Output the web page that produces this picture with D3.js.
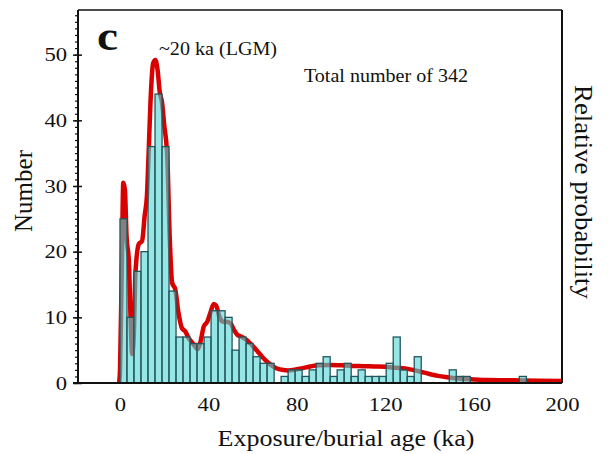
<!DOCTYPE html>
<html>
<head>
<meta charset="utf-8">
<script src="https://cdn.jsdelivr.net/npm/d3@7"></script>
<style>
  html, body { margin: 0; padding: 0; background: #fff; }
  svg { display: block; }
  text { font-family: "Liberation Serif", "Times New Roman", serif; fill: #111; }
</style>
</head>
<body>
<svg id="chart" width="608" height="454"></svg>
<script>
// ---------------- data ----------------
const binWidth = 3.17; // ka
const binCounts = [25, 10, 17, 20, 36, 44, 36, 14, 7, 7, 6, 6, 7, 11, 11, 10, 5, 7, 6, 4,
  3, 3, 0, 1, 2, 2, 1, 2, 3, 4, 1, 2, 3, 1, 2, 1, 1, 1, 3, 7,
  2, 1, 4, 0, 0, 0, 0, 2, 1, 1, 0, 0, 0, 0, 0, 0, 0, 1];

const curveAge = [-0.4, 0, 0.8, 1.5, 2.2, 3, 4, 4.8, 5.5, 6.2, 7, 8.5, 10, 11.2, 12.2, 13, 14, 15, 16, 17,
  18, 19, 20, 21.4, 22.5, 23.6, 25, 26.4, 28, 29.5, 31, 33.3, 35, 36.5, 37.9, 39.5, 41, 42.4, 43.5, 45,
  46.5, 48, 50, 51.5, 53, 55, 57.6, 60, 62, 64.5, 66.7, 69, 71, 74, 76, 79, 82, 86, 90, 95,
  100, 105, 110, 115, 120, 125, 129, 133, 136, 140, 144, 148, 153, 160, 167, 175, 182, 190, 200];
const curveProb = [0, 0.04, 0.35, 0.62, 0.6, 0.45, 0.38, 0.2, 0.09, 0.14, 0.34, 0.43, 0.44, 0.52, 0.58, 0.72, 0.9, 0.99, 1.0, 0.97,
  0.9, 0.87, 0.8, 0.7, 0.45, 0.31, 0.29, 0.22, 0.17, 0.16, 0.14, 0.12, 0.105, 0.13, 0.175, 0.19, 0.22, 0.245, 0.24, 0.205,
  0.19, 0.19, 0.185, 0.165, 0.15, 0.143, 0.132, 0.115, 0.1, 0.08, 0.065, 0.052, 0.045, 0.04, 0.039, 0.041, 0.045, 0.051, 0.055, 0.056,
  0.055, 0.053, 0.052, 0.051, 0.05, 0.047, 0.045, 0.04, 0.035, 0.028, 0.022, 0.018, 0.014, 0.011, 0.009, 0.0085, 0.008, 0.007, 0.006];

const xTicks = [0, 40, 80, 120, 160, 200];
const yTicks = [0, 10, 20, 30, 40, 50];
const xLabel = "Exposure/burial age (ka)";
const yLabel = "Number";
const y2Label = "Relative probability";
const panelLetter = "c";
const peakNote = "~20 ka (LGM)";
const totalNote = "Total number of 342";

// ---------------- layout ----------------
const L = 78, R = 562, T = 10, B = 383;
const digitW = 11.3;
const svg = d3.select("#chart");

const x = d3.scaleLinear().domain([-19, 200]).range([L, R]);
const y = d3.scaleLinear().domain([0, 56.8]).range([B, T]);
const yProb = d3.scaleLinear().domain([0, 1.155]).range([B, T]);

const bins = binCounts.map((c, i) => ({ x0: i * binWidth, x1: (i + 1) * binWidth, n: c }));

// red probability curve (beneath translucent bars)
const line = d3.line()
  .x((d, i) => x(curveAge[i]))
  .y((d, i) => yProb(curveProb[i]))
  .curve(d3.curveMonotoneX);
svg.append("path")
  .datum(curveProb)
  .attr("d", line)
  .attr("fill", "none")
  .attr("stroke", "#d90000")
  .attr("stroke-width", 4.5)
  .attr("stroke-linejoin", "round");

// histogram bars
svg.append("g").selectAll("rect")
  .data(bins.filter(d => d.n > 0))
  .join("rect")
  .attr("x", d => x(d.x0))
  .attr("width", d => x(d.x1) - x(d.x0))
  .attr("y", d => y(d.n))
  .attr("height", d => y(0) - y(d.n))
  .attr("fill", "rgb(80,213,213)")
  .attr("fill-opacity", 0.6)
  .attr("stroke", "#24555c")
  .attr("stroke-width", 1.3);

// frame
svg.append("line").attr("x1", L).attr("x2", R).attr("y1", T).attr("y2", T)
  .attr("stroke", "#111").attr("stroke-width", 1.5);
svg.append("line").attr("x1", R).attr("x2", R).attr("y1", T).attr("y2", B)
  .attr("stroke", "#111").attr("stroke-width", 2);

// y axis with minor ticks
const yAxis = svg.append("g").attr("transform", `translate(${L},0)`);
yAxis.call(d3.axisLeft(y).tickValues(d3.range(0, 57, 1)).tickSize(3).tickFormat(""))
  .call(g => g.select(".domain").remove())
  .call(g => g.selectAll("line").attr("stroke", "#111").attr("stroke-width", 1.2));
yAxis.append("g")
  .call(d3.axisLeft(y).tickValues(yTicks).tickSize(5).tickPadding(4))
  .call(g => g.select(".domain").remove())
  .call(g => g.selectAll("line").attr("x2", 4).attr("x1", -5).attr("stroke", "#111").attr("stroke-width", 1.5))
  .call(g => g.selectAll("text").attr("font-size", 19).attr("font-family", "Liberation Serif").attr("fill", "#222")
    .attr("x", -11)
    .attr("textLength", d => String(d).length * digitW).attr("lengthAdjust", "spacingAndGlyphs"));
svg.append("line").attr("x1", L).attr("x2", L).attr("y1", T).attr("y2", B)
  .attr("stroke", "#111").attr("stroke-width", 2);

// x axis (labels only, plain baseline)
const xAxis = svg.append("g").attr("transform", `translate(0,${B})`);
xAxis.call(d3.axisBottom(x).tickValues(xTicks).tickSize(0).tickPadding(15))
  .call(g => g.select(".domain").remove())
  .call(g => g.selectAll("text").attr("font-size", 19).attr("font-family", "Liberation Serif").attr("fill", "#222")
    .attr("textLength", d => String(d).length * digitW).attr("lengthAdjust", "spacingAndGlyphs"));
svg.append("line").attr("x1", L - 5).attr("x2", R).attr("y1", B).attr("y2", B)
  .attr("stroke", "#111").attr("stroke-width", 2);

// labels
svg.append("text").attr("x", 346).attr("y", 446).attr("text-anchor", "middle")
  .attr("font-size", 24).attr("textLength", 257).attr("lengthAdjust", "spacingAndGlyphs").text(xLabel);
svg.append("text").attr("transform", "translate(32,191) rotate(-90)").attr("text-anchor", "middle")
  .attr("font-size", 25).text(yLabel);
svg.append("text").attr("transform", "translate(575,192) rotate(90)").attr("text-anchor", "middle")
  .attr("font-size", 26).attr("textLength", 214).attr("lengthAdjust", "spacingAndGlyphs").text(y2Label);
svg.append("text").attr("x", 97).attr("y", 50).attr("font-size", 40).attr("font-weight", "bold")
  .attr("textLength", 21).attr("lengthAdjust", "spacingAndGlyphs").text(panelLetter);
svg.append("text").attr("x", 159).attr("y", 55).attr("font-size", 18)
  .attr("textLength", 118).attr("lengthAdjust", "spacingAndGlyphs").text(peakNote);
svg.append("text").attr("x", 304).attr("y", 82).attr("font-size", 18)
  .attr("textLength", 164).attr("lengthAdjust", "spacingAndGlyphs").text(totalNote);
</script>
</body>
</html>
